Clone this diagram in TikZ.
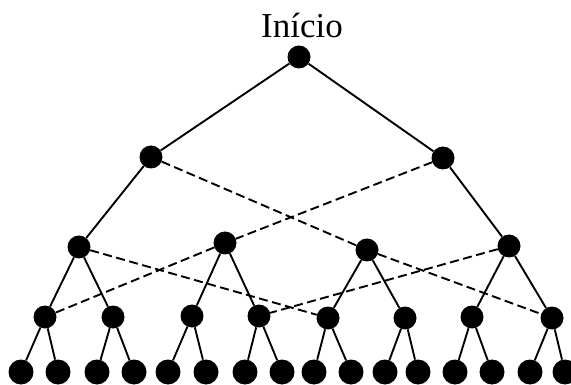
\documentclass[tikz,border=0pt]{standalone}
\usepackage{fontspec}
\setmainfont{Liberation Serif}
\begin{document}
\begin{tikzpicture}[x=1pt,y=-1pt,
  dot/.style={circle,fill=black,minimum size=23pt,inner sep=0pt},
  leaf/.style={dot,minimum size=25pt},
  tree/.style={line width=1.9pt},
  cross/.style={line width=1.9pt,dash pattern=on 9pt off 4.5pt}]
\useasboundingbox (0,0) rectangle (571,385);
% root and title
\node[dot] (r) at (299,57) {};
\node[font=\fontsize{35}{40}\selectfont, anchor=base] (title) at (302,38) {Início};
% level 1
\node[dot] (a1) at (151,157) {};
\node[dot] (a2) at (443,158) {};
% level 2
\node[dot] (b1) at (79,247) {};
\node[dot] (b2) at (225,243) {};
\node[dot] (b3) at (367,250) {};
\node[dot] (b4) at (509,246) {};
% level 3
\foreach \i/\x/\y in {1/45/317,2/113/317,3/192/316,4/259/316,5/328/318,6/405/318,7/472/317,8/552/318}
  \node[dot] (c\i) at (\x,\y) {};
% leaves
\foreach \i/\x in {1/21,2/58,3/97,4/134,5/168,6/206,7/245,8/282,9/314,10/351,11/385,12/418,13/455,14/492,15/530,16/565}
  \node[leaf] (d\i) at (\x,372) {};
% solid edges
\draw[tree] (r) -- (a1) (r) -- (a2)
  (a1) -- (b1) (a2) -- (b4)
  (b1) -- (c1) (b1) -- (c2) (b2) -- (c3) (b2) -- (c4)
  (b3) -- (c5) (b3) -- (c6) (b4) -- (c7) (b4) -- (c8);
\foreach \p in {1,...,8}{
  \pgfmathtruncatemacro{\l}{2*\p-1}
  \pgfmathtruncatemacro{\m}{2*\p}
  \draw[tree] (c\p) -- (d\l) (c\p) -- (d\m);
}
% dashed cross edges
\draw[cross] (a1) -- (b3);
\draw[cross] (a2) -- (b2);
\draw[cross] (b1) -- (c5);
\draw[cross] (b2) -- (c1);
\draw[cross] (b3) -- (c8);
\draw[cross] (b4) -- (c4);
\end{tikzpicture}
\end{document}
